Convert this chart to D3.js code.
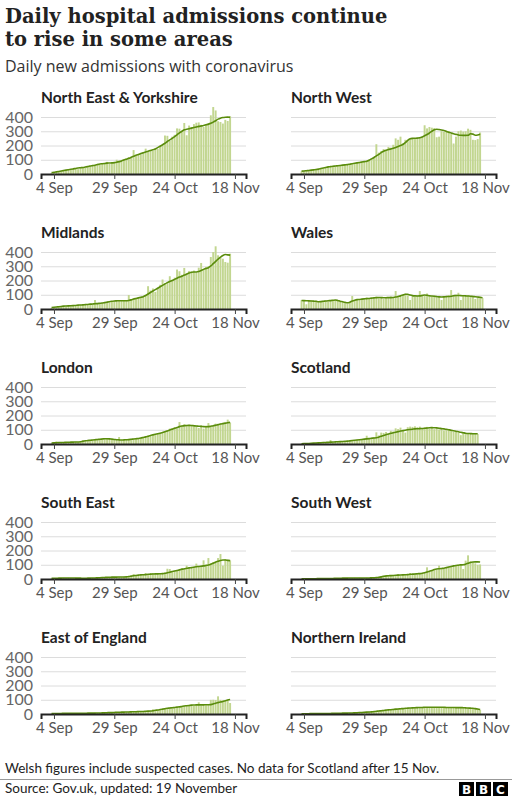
<!DOCTYPE html>
<html><head><meta charset="utf-8">
<script src="https://cdn.jsdelivr.net/npm/d3@7"></script>
<style>
body{margin:0;background:#fff;}
svg{display:block;}
</style></head><body>
<svg id="c" width="512" height="800"></svg>
<script>
// ---------------- DATA ----------------
const regionNames = ["North East & Yorkshire","North West","Midlands","Wales","London","Scotland","South East","South West","East of England","Northern Ireland"];
const firstDay = new Date(2020, 8, 3); // 3 Sep 2020, first daily value
const tickDates = [new Date(2020,8,4), new Date(2020,8,29), new Date(2020,9,24), new Date(2020,10,18)];
const tickLabels = ["4 Sep","29 Sep","24 Oct","18 Nov"];
const yTicks = [0,100,200,300,400];

const neDaily = [8,12,14,16,20,25,22, 30,28,36,40,34,44,48, 45,52,58,55,62,70,66, 76,72,85,70,78,82,100, 90,95,105,110,118,120,168, 130,140,135,150,178,160,170, 162,180,175,200,205,270,268, 232,262,275,320,318,300,358, 272,340,330,350,360,362,345, 330,345,350,412,470,446,370, 365,354,380,372,405];
const neAvg = [10,12,15,18,21,24,27, 30,33,36,39,42,44,46, 49,52,56,59,62,66,70, 72,74,76,77,78,80,83, 87,92,98,104,110,117,124, 131,137,143,149,155,160,165, 170,176,185,195,205,216,228, 240,250,262,275,288,300,310, 314,318,322,326,330,334,337, 340,345,350,356,364,374,385, 392,396,398,399,398];

const nwDaily = [18,20,22,24,22,28,30, 32,36,40,45,50,48,56, 54,60,58,62,66,64,70, 68,76,80,78,86,84,92, 100,110,112,209,150,162,175, 168,190,185,205,250,240,262, 215,240,240,245,248,250,255, 260,262,342,320,330,325,322, 258,262,300,295,305,300,280, 214,262,300,305,298,300,318, 310,240,238,245,291];
const nwAvg = [20,21,23,25,27,29,31, 34,38,42,46,50,52,54, 56,58,60,62,64,66,69, 72,75,78,81,84,87,90, 97,106,116,127,138,150,160, 167,172,176,180,186,193,200, 207,220,236,247,250,251,252, 254,260,268,277,288,300,310, 314,312,309,305,299,293,287, 282,278,274,272,271,271,272, 282,280,272,274,279];

const midDaily = [8,12,10,16,15,20,18, 22,20,24,26,25,30,28, 32,30,36,34,63,40,38, 44,48,50,46,56,58,54, 60,56,62,60,98,66,74, 70,80,84,90,100,160,130, 144,120,150,170,207,180,190, 230,205,220,277,265,240,288, 250,267,262,270,258,290,323, 280,295,300,365,400,440,377, 360,353,330,325,388];
const midAvg = [10,12,14,16,18,20,21, 22,23,24,25,27,28,29, 31,32,34,35,37,38,40, 42,45,48,51,54,56,57, 58,58,58,58,60,64,70, 74,78,82,86,95,105,116, 126,136,146,156,166,176,185, 193,200,208,216,224,230,238, 245,252,258,260,260,263,270, 278,284,290,302,318,334,350, 364,376,382,380,378];

const walesDaily = [62,58,33,56,60,52,58, 50,56,52,60,54,62,58, 64,58,56,48,45,40,50, 91,60,70,62,72,66,80, 72,84,78,86,76,82,70, 84,76,88,80,126,90,96, 100,108,96,63,98,86,94, 126,100,92,109,96,88,94, 80,92,63,88,84,96,133, 92,100,114,63,98,90,95, 88,92,70,86,80,76];
const walesAvg = [60,59,58,57,56,55,54, 51,52,54,56,58,59,61, 63,60,55,51,47,44,48, 56,62,66,67,69,71,73, 74,76,78,80,81,80,79, 79,80,80,81,84,88,92, 98,104,103,98,94,92,91, 92,95,98,96,93,91,89, 87,85,84,85,87,88,90, 93,95,95,94,93,92,91, 90,88,86,84,82,79];

const lonDaily = [6,8,19,9,12,10,14, 11,14,12,16,13,18,22, 24,22,28,26,32,30,36, 38,34,40,35,32,30,34, 49,26,30,28,34,32,36, 40,36,44,48,52,58,62, 66,70,74,78,82,90,96, 108,112,118,110,154,128,140, 132,135,130,126,128,112,130, 108,128,147,125,130,143,138, 145,148,155,171,150];
const lonAvg = [7,8,9,10,11,11,12, 12,13,13,14,14,16,20, 23,25,26,28,30,32,33, 35,37,37,36,34,32,30, 29,28,29,30,31,33,35, 37,39,42,46,50,55,60, 64,68,72,76,80,86,92, 98,104,110,116,122,126,128, 130,131,130,128,126,125,124, 122,121,122,125,128,132,136, 140,143,146,149,152];

const scoDaily = [2,2,4,3,6,5,8, 7,10,8,12,10,28,13, 16,14,18,16,20,18,22, 25,22,30,28,34,32,58, 40,45,48,82,60,80,78, 84,70,92,88,110,105,115, 98,80,118,122,120,124,118, 122,110,116,120,108,118,104, 110,102,112,95,104,98,92, 86,90,80,62,78,74,70, 76,72,74,70];
const scoAvg = [2,3,3,4,5,6,7, 8,9,10,11,12,13,14, 15,16,17,18,19,20,22, 24,26,28,30,32,34,36, 38,40,42,44,48,54,60, 65,70,75,79,83,87,91, 94,97,100,102,104,106,107, 108,109,110,112,114,115,114, 113,111,108,106,103,100,97, 93,90,86,82,79,76,74, 73,72,72,72];

const seDaily = [4,6,5,7,6,8,6, 8,7,6,8,5,7,4, 6,5,7,8,6,9,10, 12,10,14,11,15,12,14, 15,13,16,14,18,22,35, 24,28,30,32,42,34,40, 42,34,38,36,40,45,72, 70,55,58,62,66,77,70, 94,80,84,86,108,90,95, 131,100,147,110,118,125,147, 175,94,140,135,130];
const seAvg = [5,5,5,6,6,7,7, 7,7,7,6,6,6,5, 5,6,6,7,7,8,9, 10,11,12,12,13,13,13, 14,14,14,15,17,20,23, 25,27,29,30,31,33,34, 35,36,36,37,38,40,44, 48,52,56,60,64,68,72, 75,78,80,83,86,88,90, 92,95,98,103,110,118,124, 130,133,133,131,129];

const swDaily = [1,0,2,1,2,3,1, 3,2,4,3,4,5,3, 5,6,4,7,5,8,6, 7,8,6,9,7,6,8, 6,9,8,12,10,16,22, 28,20,24,26,25,35,24, 30,28,34,42,32,38,36, 40,42,46,82,52,60,70, 68,94,70,75,80,86,84, 92,96,100,104,70,129,166, 125,118,110,100,102];
const swAvg = [1,1,1,2,2,2,2, 3,3,3,3,4,4,4, 5,5,5,6,6,6,7, 7,7,7,7,7,7,7, 7,8,9,10,12,15,19, 21,23,24,25,26,27,28, 29,30,31,33,34,35,37, 38,40,44,49,54,60,66, 70,72,74,76,80,84,88, 92,95,97,99,100,104,110, 116,119,120,120,119];

const eoeDaily = [3,5,4,6,3,5,4, 6,5,4,6,5,7,4, 6,5,7,6,8,6,7, 9,8,10,9,11,12,10, 13,12,14,13,15,14,17, 16,18,17,20,19,22,20, 33,24,28,30,36,38,42, 44,40,48,50,46,55,58, 56,60,64,58,62,82,60, 66,62,70,99,100,98,124, 99,96,92,100,77];
const eoeAvg = [4,4,4,4,4,5,5, 5,5,5,5,5,5,5, 5,6,6,6,6,7,7, 8,8,9,10,10,11,12, 12,13,13,14,14,15,16, 16,17,18,18,19,20,21, 23,26,28,31,34,37,40, 42,44,46,48,50,53,56, 58,60,62,63,64,64,64, 64,65,65,66,70,76,80, 84,88,93,98,102];

const niDaily = [2,1,3,2,3,4,2, 4,3,4,5,3,5,4, 6,5,4,7,6,5,8, 7,9,8,11,10,13,12, 15,14,18,18,22,22,26, 26,30,29,33,33,36,36, 39,39,42,41,44,43,46, 45,47,46,48,46,48,46, 48,46,47,48,45,47,45, 47,44,46,44,45,42,43, 40,41,37,36,30];
const niAvg = [2,2,2,2,3,3,3, 3,3,4,4,4,4,5, 5,5,5,6,6,6,7, 7,8,9,10,11,12,13, 14,15,17,19,21,23,25, 27,29,30,32,34,35,37, 38,40,41,42,43,44,45, 46,46,47,47,47,47,47, 47,47,47,47,46,46,46, 46,45,45,45,44,43,42, 41,40,38,35,31];

const dailySeries = [neDaily, nwDaily, midDaily, walesDaily, lonDaily, scoDaily, seDaily, swDaily, eoeDaily, niDaily];
const avgSeries = [neAvg, nwAvg, midAvg, walesAvg, lonAvg, scoAvg, seAvg, swAvg, eoeAvg, niAvg];

// ---------------- DRAW ----------------
const SANS = "Lato, 'Open Sans', sans-serif";
const svg = d3.select("#c");
svg.append("rect").attr("width",512).attr("height",800).attr("fill","#fff");

svg.append("text").attr("x",5).attr("y",23).attr("font-family","'DejaVu Serif', serif").attr("font-size",19.5).attr("font-weight",700).attr("fill","#222").text("Daily hospital admissions continue");
svg.append("text").attr("x",5).attr("y",46).attr("font-family","'DejaVu Serif', serif").attr("font-size",19.5).attr("font-weight",700).attr("fill","#222").text("to rise in some areas");
svg.append("text").attr("x",5).attr("y",72).attr("font-family","'Open Sans', Lato, sans-serif").attr("font-size",16).attr("fill","#333").text("Daily new admissions with coronavirus");

const colX = [41, 291], W = 205, H = 57;
const rowBase = [174, 309, 444, 579, 714];
const x = d3.scaleTime().domain([new Date(2020,7,29,15), new Date(2020,10,22,14)]).range([0, W]);
const y = d3.scaleLinear().domain([0, 400]).range([H, 0]);
const barW = (x(new Date(2020,8,2)) - x(new Date(2020,8,1))) * 0.8;

regionNames.forEach((name, k) => {
  const col = k % 2, row = Math.floor(k / 2);
  const g = svg.append("g").attr("transform", `translate(${colX[col]},${rowBase[row] - H})`);
  const daily = dailySeries[k], avg = avgSeries[k];
  const dates = daily.map((v, i) => d3.timeDay.offset(firstDay, i));

  // title
  g.append("text").attr("x", 0).attr("y", -14).attr("font-family", SANS).attr("font-weight", 700)
    .attr("font-size", 15.5).attr("fill", "#222").text(name);

  // grid
  const grid = g.append("g").call(d3.axisLeft(y).tickValues([100,200,300,400]).tickSize(-W).tickFormat(""));
  grid.select(".domain").remove();
  grid.selectAll("line").attr("stroke", "#dcdcdc").attr("stroke-width", 1);

  // y labels (left column only)
  if (col === 0) {
    const ya = g.append("g").call(d3.axisLeft(y).tickValues(yTicks).tickSize(0).tickPadding(8));
    ya.select(".domain").remove();
    ya.selectAll("text").attr("font-family", SANS).attr("font-size", 16).attr("fill", "#666");
  }

  // bars
  g.selectAll("rect.bar").data(daily).join("rect").attr("class", "bar")
    .attr("x", (d, i) => x(dates[i]) - barW / 2).attr("width", barW)
    .attr("y", d => y(d)).attr("height", d => H - y(d))
    .attr("fill", "#c2d690");

  // average line
  g.append("path").datum(avg)
    .attr("d", d3.line().x((d, i) => x(dates[i])).y(d => y(d)).curve(d3.curveMonotoneX))
    .attr("fill", "none").attr("stroke", "#5a8c0c").attr("stroke-width", 1.6);

  // x axis
  const xa = g.append("g").attr("transform", `translate(0,${H})`)
    .call(d3.axisBottom(x).tickValues(tickDates).tickFormat((d, i) => tickLabels[i]).tickSizeOuter(0).tickSize(5).tickPadding(3));
  xa.select(".domain").attr("stroke", "#222").attr("stroke-width", 2);
  xa.selectAll(".tick line").attr("stroke", "#444");
  xa.selectAll("text").attr("font-family", SANS).attr("font-size", 15).attr("fill", "#555");
});

// footer
svg.append("text").attr("x",5).attr("y",773).attr("font-family",SANS).attr("font-size",13.5).attr("fill","#222").text("Welsh figures include suspected cases. No data for Scotland after 15 Nov.");
svg.append("line").attr("x1",0).attr("x2",512).attr("y1",779.5).attr("y2",779.5).attr("stroke","#999").attr("stroke-width",1);
svg.append("text").attr("x",5).attr("y",793).attr("font-family",SANS).attr("font-size",13.5).attr("fill","#222").text("Source: Gov.uk, updated: 19 November");
const logo = svg.append("g").attr("transform","translate(459,782)");
["B","B","C"].forEach((c,i)=>{
  logo.append("rect").attr("x",i*17).attr("y",0).attr("width",15).attr("height",14).attr("fill","#000");
  logo.append("text").attr("x",i*17+7.5).attr("y",11.5).attr("text-anchor","middle").attr("font-family","'DejaVu Sans', sans-serif").attr("font-weight",700).attr("font-size",12).attr("fill","#fff").text(c);
});
</script>
</body></html>
